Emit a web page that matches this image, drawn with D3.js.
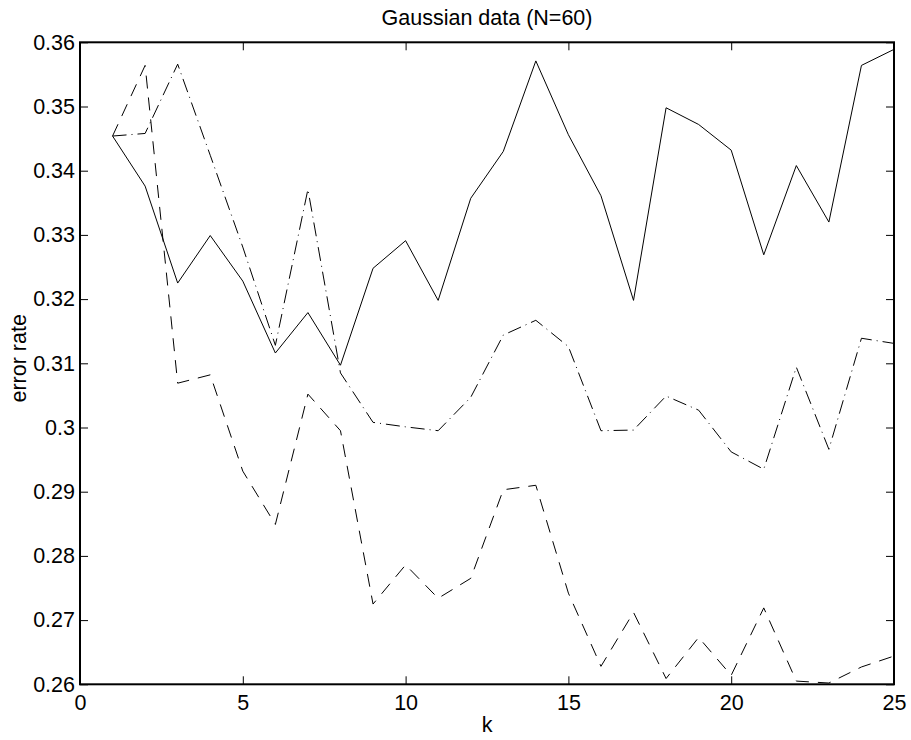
<!DOCTYPE html>
<html>
<head>
<meta charset="utf-8">
<script src="https://cdn.jsdelivr.net/npm/d3@7"></script>
<style>
  html, body { margin: 0; padding: 0; background: #fff; }
  svg { display: block; }
  text { font-family: "Liberation Sans", Arial, Helvetica, sans-serif; fill: #000; }
</style>
</head>
<body>
<svg id="chart" width="911" height="740"></svg>
<script>
// Neighbourhood size k
const kValues = [1,2,3,4,5,6,7,8,9,10,11,12,13,14,15,16,17,18,19,20,21,22,23,24,25];

// Error rate for each method (solid, dashed, dash-dot)
const solidErr = [0.3454,0.3376,0.3225,0.3299,0.3228,0.3116,0.3179,0.3097,0.3248,0.3291,
                  0.3198,0.3357,0.3430,0.3571,0.3456,0.3361,0.3198,0.3498,0.3472,0.3432,
                  0.3269,0.3408,0.3320,0.3564,0.3589];
const dashedErr = [0.3454,0.3564,0.3069,0.3082,0.2932,0.2849,0.3052,0.2995,0.2725,0.2786,
                   0.2734,0.2765,0.2903,0.2910,0.2742,0.2628,0.2712,0.2609,0.2673,0.2614,
                   0.2719,0.2605,0.2602,0.2627,0.2644];
const dashDotErr = [0.3454,0.3458,0.3566,0.3424,0.3281,0.3128,0.3371,0.3085,0.3008,0.3001,
                    0.2995,0.3047,0.3144,0.3167,0.3126,0.2995,0.2996,0.3049,0.3027,0.2962,
                    0.2935,0.3094,0.2966,0.3139,0.3131];

// Axis ticks and labels
const xTicks = [0,5,10,15,20,25];
const xTickLabels = ["0","5","10","15","20","25"];
const yTicks = [0.26,0.27,0.28,0.29,0.30,0.31,0.32,0.33,0.34,0.35,0.36];
const yTickLabels = ["0.26","0.27","0.28","0.29","0.3","0.31","0.32","0.33","0.34","0.35","0.36"];

const titleText = "Gaussian data (N=60)";
const xLabel = "k";
const yLabel = "error rate";

const svg = d3.select("#chart");
const L = 80, R = 894, T = 42.3, B = 684.3;
const fontSize = 21.5;

const x = d3.scaleLinear().domain([0, 25]).range([L, R]);
const y = d3.scaleLinear().domain([0.26, 0.36]).range([B, T]);

// Inward ticks on all four sides
const tickLen = 8;
const axisLeft = d3.axisLeft(y).tickValues(yTicks)
  .tickFormat((d, i) => yTickLabels[i]).tickSizeInner(-tickLen).tickSizeOuter(0).tickPadding(5);
const axisRight = d3.axisRight(y).tickValues(yTicks)
  .tickFormat("").tickSizeInner(-tickLen).tickSizeOuter(0);
const axisBottom = d3.axisBottom(x).tickValues(xTicks)
  .tickFormat((d, i) => xTickLabels[i]).tickSizeInner(-tickLen).tickSizeOuter(0).tickPadding(10);
const axisTop = d3.axisTop(x).tickValues(xTicks)
  .tickFormat("").tickSizeInner(-tickLen).tickSizeOuter(0);

function styleAxis(g) {
  g.select(".domain").remove();
  g.selectAll(".tick line").attr("stroke", "#000").attr("stroke-width", 1);
  g.selectAll(".tick text")
    .style("font-family", '"Liberation Sans", Arial, Helvetica, sans-serif')
    .style("font-size", fontSize + "px").attr("fill", "#000");
}

svg.append("g").attr("transform", `translate(${L},0)`).call(axisLeft).call(styleAxis);
svg.append("g").attr("transform", `translate(${R},0)`).call(axisRight).call(styleAxis);
svg.append("g").attr("transform", `translate(0,${B})`).call(axisBottom).call(styleAxis);
svg.append("g").attr("transform", `translate(0,${T})`).call(axisTop).call(styleAxis);

// Frame
svg.append("rect")
  .attr("x", L).attr("y", T).attr("width", R - L).attr("height", B - T)
  .attr("fill", "none").attr("stroke", "#000").attr("stroke-width", 2);

// Series
const line = d3.line().x(d => x(d[0])).y(d => y(d[1]));
const series = [
  { values: solidErr, dash: null },
  { values: dashedErr, dash: "13,9" },
  { values: dashDotErr, dash: "14,5,1,5" }
];
series.forEach(s => {
  svg.append("path")
    .datum(kValues.map((k, i) => [k, s.values[i]]))
    .attr("d", line)
    .attr("fill", "none")
    .attr("stroke", "#000")
    .attr("stroke-width", 1)
    .attr("stroke-dasharray", s.dash);
});

// Title and axis labels
svg.append("text").attr("x", (L + R) / 2).attr("y", 25)
  .attr("text-anchor", "middle").style("font-size", fontSize + "px").text(titleText);
svg.append("text").attr("x", (L + R) / 2).attr("y", 732)
  .attr("text-anchor", "middle").style("font-size", fontSize + "px").text(xLabel);
svg.append("text")
  .attr("transform", `translate(26,${(T + B) / 2 - 5}) rotate(-90)`)
  .attr("text-anchor", "middle").style("font-size", fontSize + "px").text(yLabel);
</script>
</body>
</html>
